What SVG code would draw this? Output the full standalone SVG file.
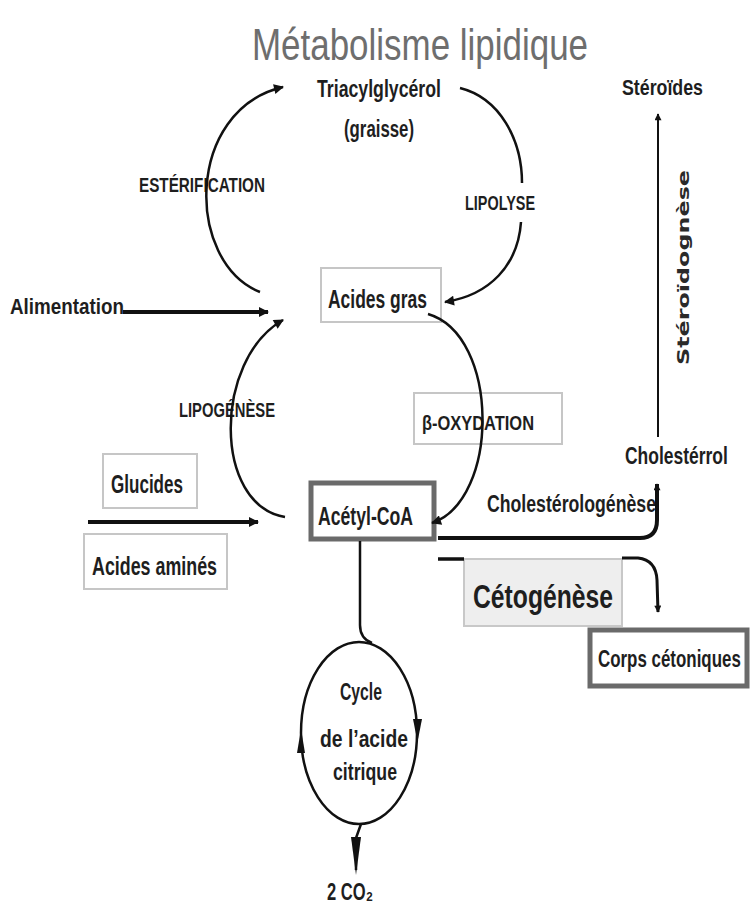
<svg xmlns="http://www.w3.org/2000/svg" width="751" height="904" viewBox="0 0 751 904">
<defs>
<style>
.t{font-family:"Liberation Sans",Arial,sans-serif;font-weight:bold;fill:#1e1e1e}
.box{fill:#ffffff;stroke:#c6c6c6;stroke-width:2}
.dbox{fill:#ffffff;stroke:#6a6a6a;stroke-width:5}
.ln{fill:none;stroke:#111;stroke-width:2.5}
.th{fill:none;stroke:#111;stroke-width:4}
.ah{fill:#111}
</style>
<marker id="arr" viewBox="0 0 10 10" refX="9" refY="5" markerWidth="11" markerHeight="10" orient="auto" markerUnits="userSpaceOnUse">
<path d="M0,0 L10,5 L0,10 z" fill="#111"/>
</marker>
<marker id="arrs" viewBox="0 0 10 10" refX="9" refY="5" markerWidth="9" markerHeight="7" orient="auto" markerUnits="userSpaceOnUse">
<path d="M0,0 L10,5 L0,10 z" fill="#111"/>
</marker>
</defs>
<rect width="751" height="904" fill="#ffffff"/>

<text x="252" y="60" font-family="'Liberation Sans',Arial,sans-serif" font-size="44" fill="#6e6e6e" textLength="336" lengthAdjust="spacingAndGlyphs">Métabolisme lipidique</text>

<g id="triacylglycerol">
<text class="t" x="317" y="97" font-size="23" textLength="124" lengthAdjust="spacingAndGlyphs">Triacylglycérol</text>
<text class="t" x="344" y="137" font-size="23" textLength="70" lengthAdjust="spacingAndGlyphs">(graisse)</text>
</g>
<g id="steroides">
<text class="t" x="622" y="95" font-size="22" textLength="81" lengthAdjust="spacingAndGlyphs">Stéroïdes</text>
</g>
<g id="esterification">
<text class="t" x="139" y="192" font-size="20" textLength="126" lengthAdjust="spacingAndGlyphs">ESTÉRIFICATION</text>
</g>
<g id="lipolyse">
<text class="t" x="465" y="210" font-size="20" textLength="70" lengthAdjust="spacingAndGlyphs">LIPOLYSE</text>
</g>
<g id="alimentation">
<text class="t" x="10" y="314" font-size="22" textLength="114" lengthAdjust="spacingAndGlyphs">Alimentation</text>
</g>
<g id="acides-gras">
<rect class="box" x="321" y="268" width="120" height="54"/>
<text class="t" x="328" y="308" font-size="25" textLength="99" lengthAdjust="spacingAndGlyphs">Acides gras</text>
</g>
<g id="lipogenese">
<text class="t" x="179" y="417" font-size="20" textLength="96" lengthAdjust="spacingAndGlyphs">LIPOGÉNÈSE</text>
</g>
<g id="beta-oxydation">
<rect class="box" x="414" y="393" width="148" height="51"/>
<text class="t" x="422" y="430" font-size="20" textLength="112" lengthAdjust="spacingAndGlyphs">β-OXYDATION</text>
</g>
<g id="glucides">
<rect class="box" x="103" y="454" width="94" height="54"/>
<text class="t" x="111" y="493" font-size="26" textLength="72" lengthAdjust="spacingAndGlyphs">Glucides</text>
</g>
<g id="acides-amines">
<rect class="box" x="84" y="534" width="143" height="55"/>
<text class="t" x="92" y="575" font-size="26" textLength="125" lengthAdjust="spacingAndGlyphs">Acides aminés</text>
</g>
<g id="acetyl-coa">
<rect class="dbox" x="311" y="483" width="123" height="56"/>
<text class="t" x="318" y="525" font-size="25" textLength="95" lengthAdjust="spacingAndGlyphs">Acétyl-CoA</text>
</g>
<g id="cholesterol">
<text class="t" transform="translate(625,464) scale(0.76,1)" x="0" y="0" font-size="23">Cholestérrol</text>
</g>
<g id="steroidognese">
<text transform="translate(689,365) rotate(-90)" x="0" y="0" font-family="'DejaVu Sans',Verdana,sans-serif" font-weight="bold" font-size="16" fill="#2a2a2a" textLength="195" lengthAdjust="spacingAndGlyphs">Stéroïdognèse</text>
</g>
<g id="cholesterologenese">
<text class="t" x="487" y="512" font-size="23" textLength="169" lengthAdjust="spacingAndGlyphs">Cholestérologénèse</text>
</g>
<g id="cetogenese">
<rect x="464" y="559" width="158" height="67" fill="#eeeeee" stroke="#c8c8c8" stroke-width="2"/>
<text class="t" x="473" y="608" font-size="34" textLength="140" lengthAdjust="spacingAndGlyphs">Cétogénèse</text>
</g>
<g id="corps-cetoniques">
<rect class="dbox" x="590" y="630" width="157" height="56"/>
<text class="t" transform="translate(598,667) scale(0.705,1)" x="0" y="0" font-size="24">Corps cétoniques</text>
</g>
<g id="cycle">
<ellipse cx="359" cy="733" rx="58" ry="91" fill="none" stroke="#111" stroke-width="2.5"/>
<text class="t" x="340" y="700" font-size="23" textLength="42" lengthAdjust="spacingAndGlyphs">Cycle</text>
<text class="t" x="320" y="747" font-size="23" textLength="88" lengthAdjust="spacingAndGlyphs">de l’acide</text>
<text class="t" x="333" y="780" font-size="23" textLength="64" lengthAdjust="spacingAndGlyphs">citrique</text>
</g>
<g id="co2">
<text class="t" x="327" y="900" font-size="24" textLength="46" lengthAdjust="spacingAndGlyphs">2 CO₂</text>
</g>

<g id="connectors">
<path class="ln" d="M260 292 C185 262, 185 110, 283 87" marker-end="url(#arr)"/>
<path class="ln" d="M460 88 C500 98, 522 140, 522 183"/>
<path class="ln" d="M521 222 C518 265, 490 295, 445 302" marker-end="url(#arr)"/>
<path class="th" d="M123 312 L268 312" marker-end="url(#arr)"/>
<path class="ln" d="M285 517 C213 505, 213 360, 283 320" marker-end="url(#arr)"/>
<path class="ln" d="M428 314 C500 335, 500 500, 432 523" marker-end="url(#arr)"/>
<path class="th" d="M88 522 L258 522" marker-end="url(#arr)"/>
<path fill="none" stroke="#111" stroke-width="2" d="M658 437 L658 114" marker-end="url(#arrs)"/>
<path class="th" d="M438 538 L640 538 Q657 538 657 520 L657 484" marker-end="url(#arrs)"/>
<path fill="none" stroke="#111" stroke-width="3.5" d="M438 559 L464 559"/>
<path fill="none" stroke="#111" stroke-width="3" d="M622 558 L638 558 Q656 560 657 580 L658 612" marker-end="url(#arrs)"/>
<path class="ln" d="M360 541 L360 625 C360 635, 364 640, 372 643"/>
<polygon class="ah" points="301,729 297,753 305,753"/>
<polygon class="ah" points="413,719 422,719 417.5,742"/>
<path class="ln" d="M361 824 L356 838 L356 870"/>
<polygon class="ah" points="351,837 361,837 356,875"/>
</g>
</svg>
